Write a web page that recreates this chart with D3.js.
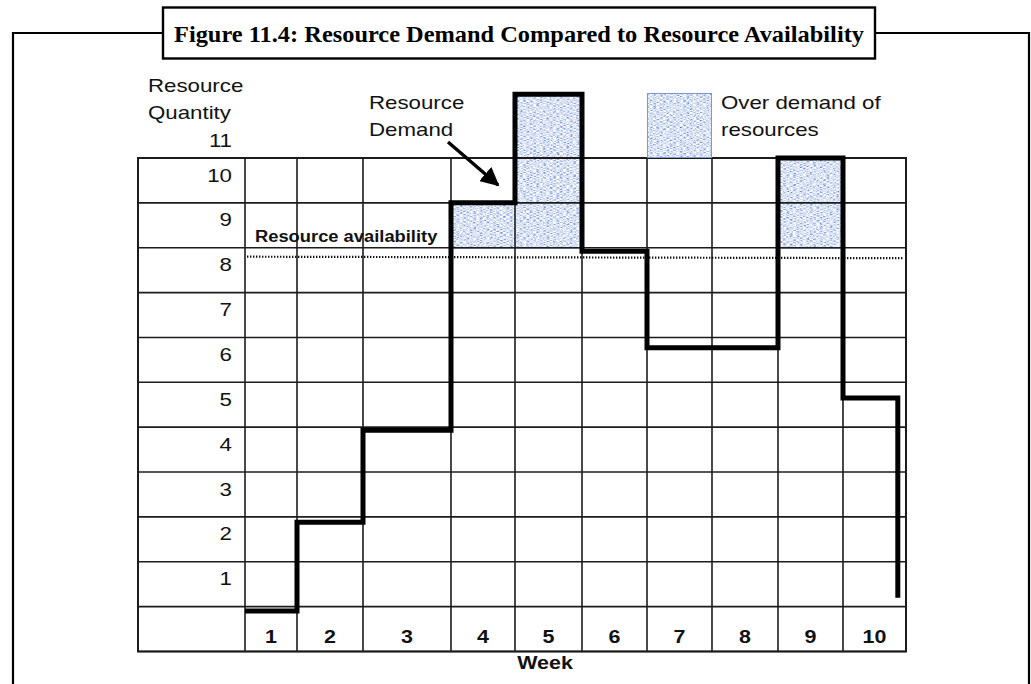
<!DOCTYPE html>
<html>
<head>
<meta charset="utf-8">
<script src="https://cdn.jsdelivr.net/npm/d3@7"></script>
<style>
  html, body { margin: 0; padding: 0; background: #fff; }
  svg { display: block; }
</style>
</head>
<body>
<svg id="chart" width="1031" height="684"></svg>
<script>
// ---- data ----
const weeks = ["1", "2", "3", "4", "5", "6", "7", "8", "9", "10"];
const demand = [-0.1, 1.88, 3.93, 9.0, 11.42, 7.92, 5.77, 5.77, 10.0, 4.65];
const demandEnd = 0.2;          // where the week-10 drop ends
const capacity = 8;             // level above which demand is shaded
const availability = 7.8;       // dotted availability line
const yTickLabels = ["1", "2", "3", "4", "5", "6", "7", "8", "9", "10"];
const yTopLabel = "11";
const titleText = "Figure 11.4: Resource Demand Compared to Resource Availability";

// ---- layout ----
const W = 1031, H = 684;
const SX = 1.16;                              // horizontal text stretch
const tableLeft = 138;
const colEdges = [245, 297, 363, 451, 515, 582, 647, 712, 778, 843, 906];
const x = d3.scaleLinear().domain(d3.range(colEdges.length)).range(colEdges);
const y = d3.scaleLinear().domain([0, 10]).range([606.6, 158]);
const sans = "'Liberation Sans', Arial, Helvetica, sans-serif";

const svg = d3.select("#chart");

// textured blue fill
const defs = svg.append("defs");
const f = defs.append("filter").attr("id", "tex")
  .attr("x", 0).attr("y", 0).attr("width", 1).attr("height", 1);
f.append("feTurbulence").attr("type", "fractalNoise")
  .attr("baseFrequency", "0.3 1.0").attr("numOctaves", 2).attr("seed", 7).attr("result", "n");
f.append("feColorMatrix").attr("in", "n").attr("type", "matrix")
  .attr("values", "2.2 0 0 0 -0.4  1.8 0 0 0 -0.14  0.72 0 0 0 0.54  0 0 0 0 1").attr("result", "c");
f.append("feComposite").attr("in", "c").attr("in2", "SourceGraphic").attr("operator", "in");

defs.append("marker").attr("id", "arrowHead")
  .attr("viewBox", "0 0 10 10").attr("refX", 9).attr("refY", 5)
  .attr("markerWidth", 5.5).attr("markerHeight", 5.5).attr("orient", "auto")
  .attr("markerUnits", "strokeWidth")
  .append("path").attr("d", "M0,0 L10,5 L0,10 z").attr("fill", "#000");

function label(g, px, py, str, opts = {}) {
  return g.append("text")
    .attr("transform", `translate(${px},${py}) scale(${opts.sx || SX},1)`)
    .attr("font-family", opts.family || sans)
    .attr("font-size", opts.size || 19.2)
    .attr("font-weight", opts.weight || "normal")
    .attr("text-anchor", opts.anchor || "start")
    .attr("fill", "#111")
    .text(str);
}

// ---- outer frame and title box ----
svg.append("path")
  .attr("d", `M13,${H} V33 H163 M875,33 H1029 V${H}`)
  .attr("fill", "none").attr("stroke", "#000").attr("stroke-width", 2.2);
svg.append("rect").attr("x", 163).attr("y", 7.5).attr("width", 712).attr("height", 51)
  .attr("fill", "#fff").attr("stroke", "#000").attr("stroke-width", 2.4);
svg.append("text")
  .attr("x", 519).attr("y", 42)
  .attr("text-anchor", "middle")
  .attr("font-family", "'Liberation Serif', 'Times New Roman', serif")
  .attr("font-weight", "bold").attr("font-size", 24)
  .attr("textLength", 690).attr("lengthAdjust", "spacingAndGlyphs")
  .attr("fill", "#000")
  .text(titleText);

// ---- over-demand shading ----
const over = demand.map((v, i) => ({ i, v })).filter(d => d.v > capacity);
const shade = svg.append("g");
shade.selectAll("rect").data(over).join("rect")
  .attr("x", d => x(d.i)).attr("width", d => x(d.i + 1) - x(d.i))
  .attr("y", d => y(d.v)).attr("height", d => y(capacity) - y(d.v))
  .attr("fill", "#9fb0d8").attr("filter", "url(#tex)");
shade.selectAll("line").data(over).join("line")
  .attr("x1", d => x(d.i)).attr("x2", d => x(d.i + 1))
  .attr("y1", y(capacity)).attr("y2", y(capacity))
  .attr("stroke", "#3d5aa8").attr("stroke-width", 1.6);

// ---- grid table ----
const grid = svg.append("g").attr("stroke", "#1c1c1c").attr("stroke-width", 1.6).attr("fill", "none");
const rowVals = d3.range(-1, 11);
grid.selectAll("line.h").data(rowVals).join("line").attr("class", "h")
  .attr("x1", tableLeft).attr("x2", colEdges[colEdges.length - 1])
  .attr("y1", d => y(d)).attr("y2", d => y(d));
grid.selectAll("line.v").data([tableLeft, ...colEdges]).join("line").attr("class", "v")
  .attr("x1", d => d).attr("x2", d => d)
  .attr("y1", y(10)).attr("y2", y(-1));
grid.append("rect")
  .attr("x", tableLeft).attr("y", y(10))
  .attr("width", colEdges[colEdges.length - 1] - tableLeft).attr("height", y(-1) - y(10))
  .attr("stroke-width", 2);

// ---- y labels ----
const lab = svg.append("g");
yTickLabels.forEach(t => label(lab, 232, y(+t) + 23.5, t, { anchor: "end" }));
label(lab, 232, 147, yTopLabel, { anchor: "end" });
label(lab, 148, 92, "Resource");
label(lab, 148, 119, "Quantity");

// ---- week labels ----
weeks.forEach((w, i) => label(lab, (x(i) + x(i + 1)) / 2, 643, w, { anchor: "middle", weight: "bold", size: 18.5 }));
label(lab, 545, 669, "Week", { anchor: "middle", weight: "bold", size: 18.5 });

// ---- availability line ----
svg.append("line")
  .attr("x1", 247).attr("x2", 903)
  .attr("y1", y(availability)).attr("y2", y(availability) + 1.5)
  .attr("stroke", "#111").attr("stroke-width", 2.2).attr("stroke-dasharray", "1.4 1.6");
label(lab, 255, 242, "Resource availability", { weight: "bold", size: 15.8 });

// ---- demand step line ----
const pts = demand.map((v, i) => [i, v]);
pts.push([9.87, demandEnd]);
const line = d3.line().x(d => x(d[0])).y(d => y(d[1])).curve(d3.curveStepAfter);
svg.append("path").datum(pts)
  .attr("d", line)
  .attr("fill", "none").attr("stroke", "#000").attr("stroke-width", 5)
  .attr("stroke-linejoin", "miter").attr("stroke-linecap", "butt");

// ---- annotations ----
label(lab, 369, 109, "Resource");
label(lab, 369, 136, "Demand");
svg.append("line")
  .attr("x1", 448).attr("y1", 142).attr("x2", 498).attr("y2", 185)
  .attr("stroke", "#000").attr("stroke-width", 3.4)
  .attr("marker-end", "url(#arrowHead)");

// legend swatch
svg.append("rect")
  .attr("x", x(6)).attr("width", x(7) - x(6))
  .attr("y", 93).attr("height", y(10) - 93)
  .attr("fill", "#9fb0d8").attr("filter", "url(#tex)");
svg.append("rect")
  .attr("x", x(6) + 0.5).attr("width", x(7) - x(6) - 1)
  .attr("y", 93.5).attr("height", y(10) - 94)
  .attr("fill", "none").attr("stroke", "#7d97d4").attr("stroke-width", 1);
label(lab, 721, 109, "Over demand of");
label(lab, 721, 136, "resources");
</script>
</body>
</html>
